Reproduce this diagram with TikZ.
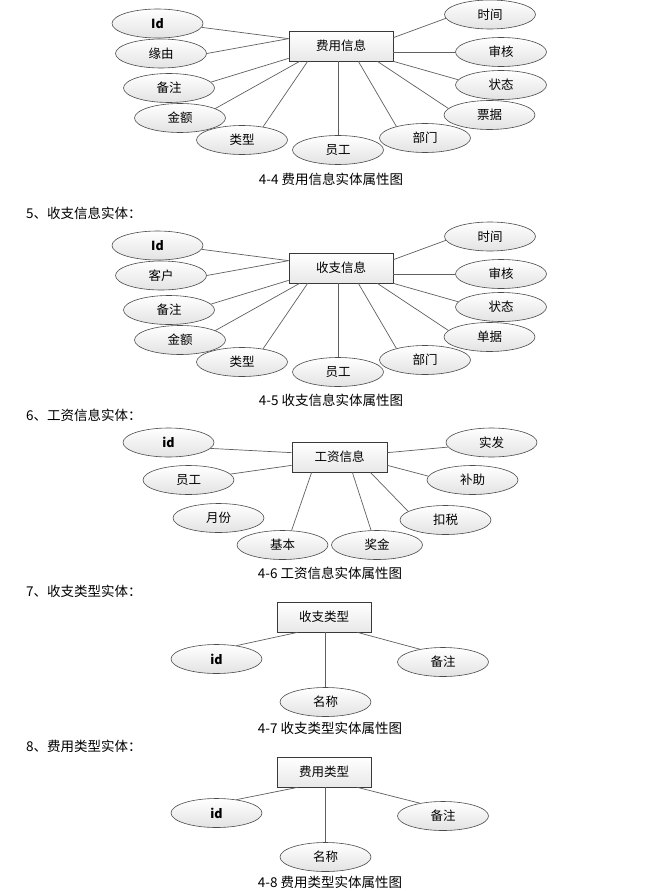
\documentclass[tikz,border=0pt]{standalone}
\usepackage{fontspec}
\setmainfont{Noto Sans CJK SC}
\usetikzlibrary{shapes.geometric,shadows}
\begin{document}
\begin{tikzpicture}[x=1pt,y=-1pt,
  attr/.style={ellipse, draw=gray!60!black, line width=0.6pt, top color=white, bottom color=gray!22,
    minimum width=91pt, minimum height=29pt, inner sep=0pt, font=\fontsize{12.5}{14}\selectfont},
  ent/.style={rectangle, draw=gray!45!black, line width=0.7pt, top color=white, bottom color=gray!18,
    minimum height=30pt, inner sep=0pt, font=\fontsize{12.5}{14}\selectfont,
    drop shadow={shadow xshift=1.2pt, shadow yshift=-1.2pt, opacity=0.35}},
  conn/.style={draw=gray!75!black, line width=0.7pt},
  head/.style={anchor=west, inner sep=0pt, font=\fontsize{13.5}{15}\selectfont},
  figcap/.style={inner sep=0pt, font=\fontsize{13.5}{15}\selectfont}]
\useasboundingbox[fill=white] (0,0) rectangle (666,891);

% ---------- 4-4 ----------
\node[ent, minimum width=104pt] (fy) at (341,46) {费用信息};
\node[attr] (fyid) at (157.5,23.5) {\textbf{Id}};
\node[attr] (fyyy) at (161,53.5) {缘由};
\node[attr] (fybz) at (169,88) {备注};
\node[attr] (fyje) at (180,118) {金额};
\node[attr] (fylx) at (242,140) {类型};
\node[attr] (fyyg) at (338,150) {员工};
\node[attr] (fybm) at (425,138) {部门};
\node[attr] (fypj) at (489.5,115) {票据};
\node[attr] (fyzt) at (501,85) {状态};
\node[attr] (fysh) at (501,52) {审核};
\node[attr] (fysj) at (490,14.5) {时间};
\draw[conn] (fyid.-5) -- ([yshift=-8pt]fy.north west);
\draw[conn] (fyyy.east) -- ([yshift=-8pt]fy.north west);
\draw[conn] (fybz.8) -- ([yshift=3pt]fy.south west);
\draw[conn] (fyje.15) -- ([xshift=11pt]fy.south west);
\draw[conn] (fylx.32) -- ([xshift=19pt]fy.south west);
\draw[conn] (fyyg.north) -- (fyyg.north |- fy.south);
\draw[conn] (fybm.158) -- ([xshift=-35pt]fy.south east);
\draw[conn] (fypj.171) -- ([xshift=-16pt]fy.south east);
\draw[conn] (fyzt.173) -- (fy.south east);
\draw[conn] (fysh.west) -- (fysh.west -| fy.east);
\draw[conn] (fysj.185) -- ([yshift=-7pt]fy.north east);
\node[figcap] (cap1) at (331,179) {4-4 费用信息实体属性图};

% ---------- 4-5 ----------
\node[head] (h5) at (26,213) {5、收支信息实体：};
\node[ent, minimum width=104pt] (sz) at (341,268) {收支信息};
\node[attr] (szid) at (157.5,245.5) {\textbf{Id}};
\node[attr] (szkh) at (161,275.5) {客户};
\node[attr] (szbz) at (169,310) {备注};
\node[attr] (szje) at (180,340) {金额};
\node[attr] (szlx) at (242,362) {类型};
\node[attr] (szyg) at (338,372) {员工};
\node[attr] (szbm) at (425,360) {部门};
\node[attr] (szdj) at (489.5,337) {单据};
\node[attr] (szzt) at (501,307) {状态};
\node[attr] (szsh) at (501,274) {审核};
\node[attr] (szsj) at (490,236.5) {时间};
\draw[conn] (szid.-5) -- ([yshift=-8pt]sz.north west);
\draw[conn] (szkh.east) -- ([yshift=-8pt]sz.north west);
\draw[conn] (szbz.8) -- ([yshift=3pt]sz.south west);
\draw[conn] (szje.15) -- ([xshift=11pt]sz.south west);
\draw[conn] (szlx.32) -- ([xshift=19pt]sz.south west);
\draw[conn] (szyg.north) -- (szyg.north |- sz.south);
\draw[conn] (szbm.158) -- ([xshift=-35pt]sz.south east);
\draw[conn] (szdj.171) -- ([xshift=-16pt]sz.south east);
\draw[conn] (szzt.173) -- (sz.south east);
\draw[conn] (szsh.west) -- (szsh.west -| sz.east);
\draw[conn] (szsj.185) -- ([yshift=-7pt]sz.north east);
\node[figcap] (cap2) at (331,400) {4-5 收支信息实体属性图};

% ---------- 4-6 ----------
\node[head] (h6) at (26,415) {6、工资信息实体：};
\node[ent, minimum width=95pt] (gz) at (339.5,457) {工资信息};
\node[attr] (gzid) at (168.5,442.5) {\textbf{id}};
\node[attr] (gzyg) at (188.5,480) {员工};
\node[attr] (gzyf) at (218.5,518) {月份};
\node[attr] (gzjb) at (282.5,545) {基本};
\node[attr] (gzjj) at (377,545) {奖金};
\node[attr] (gzks) at (445.5,520) {扣税};
\node[attr] (gzbz) at (472.5,480) {补助};
\node[attr] (gzsf) at (491.5,442.5) {实发};
\draw[conn] (gzid.-8) -- ([yshift=-11pt]gz.north west);
\draw[conn] (gzyg.8) -- ([yshift=7pt]gz.south west);
\draw[conn] (gzjb.58) -- ([xshift=20pt]gz.south west);
\draw[conn] (gzjj.112) -- ([xshift=-35pt]gz.south east);
\draw[conn] (gzks.167) -- ([xshift=-17pt]gz.south east);
\draw[conn] (gzbz.175) -- ([yshift=7pt]gz.south east);
\draw[conn] (gzsf.186) -- ([yshift=-11pt]gz.north east);
\node[figcap] (cap3) at (330,573) {4-6 工资信息实体属性图};

% ---------- 4-7 ----------
\node[head] (h7) at (26,591) {7、收支类型实体：};
\node[ent, minimum width=94pt] (lx) at (324,617) {收支类型};
\node[attr] (lxid) at (216.5,659) {\textbf{id}};
\node[attr] (lxmc) at (325.5,702) {名称};
\node[attr] (lxbz) at (443,662) {备注};
\draw[conn] (lxid.34) -- ([xshift=21pt]lx.south west);
\draw[conn] (lxmc.north) -- (lxmc.north |- lx.south);
\draw[conn] (lxbz.151) -- ([xshift=-14pt]lx.south east);
\node[figcap] (cap4) at (330,728) {4-7 收支类型实体属性图};

% ---------- 4-8 ----------
\node[head] (h8) at (26,746) {8、费用类型实体：};
\node[ent, minimum width=94pt] (fl) at (324,772) {费用类型};
\node[attr] (flid) at (216.5,813) {\textbf{id}};
\node[attr] (flmc) at (325.5,857) {名称};
\node[attr] (flbz) at (443,816) {备注};
\draw[conn] (flid.34) -- ([xshift=21pt]fl.south west);
\draw[conn] (flmc.north) -- (flmc.north |- fl.south);
\draw[conn] (flbz.151) -- ([xshift=-14pt]fl.south east);
\node[figcap] (cap5) at (330,882) {4-8 费用类型实体属性图};
\end{tikzpicture}
\end{document}
